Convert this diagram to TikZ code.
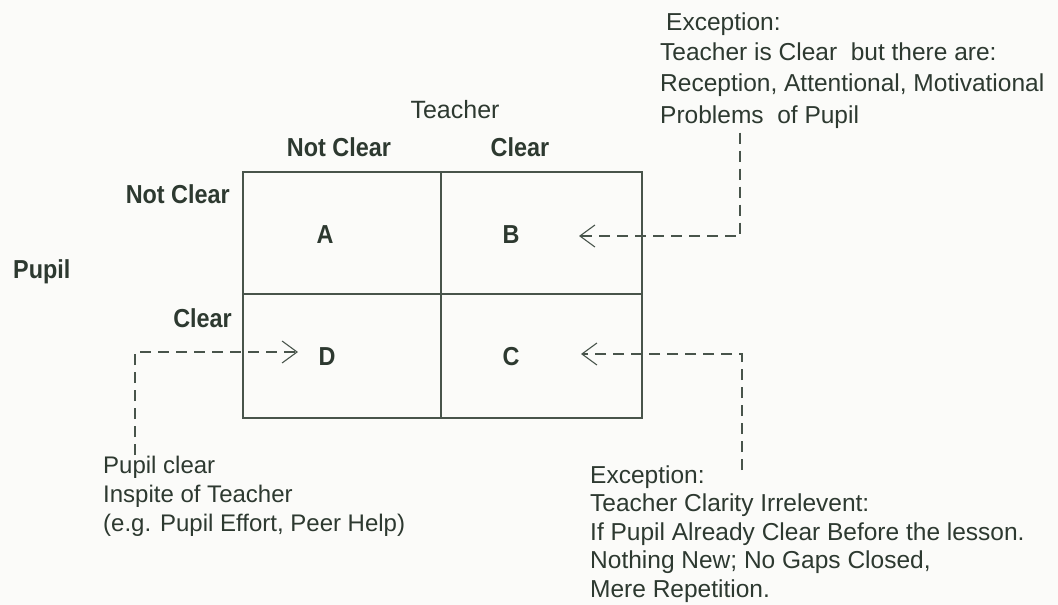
\documentclass[tikz,border=0pt]{standalone}
\usepackage{fontspec}
\setmainfont{Liberation Sans}
\newfontfamily\labfont[FakeStretch=0.9]{Liberation Sans}
\usetikzlibrary{arrows.meta}
\definecolor{bgc}{RGB}{251,251,249}
\definecolor{txt}{RGB}{45,57,48}
\definecolor{ln}{RGB}{72,84,75}
\tikzset{
  gridline/.style={draw=ln, line width=1.5pt},
  hdr/.style={inner sep=0pt, text=txt, font=\labfont\bfseries\fontsize{26}{30}\selectfont},
  tchr/.style={inner sep=0pt, text=txt, font=\fontsize{25}{30}\selectfont},
  letter/.style={inner sep=0pt, text=txt, font=\labfont\bfseries\fontsize{26}{30}\selectfont},
  note/.style={inner sep=0pt, text=txt, anchor=base west},
  dasharrow/.style={draw=ln, line width=1.1pt, dash pattern=on 11pt off 7pt,
    -{Straight Barb[length=15pt,width=22pt,line width=1.1pt]}},
}
\begin{document}
\begin{tikzpicture}[x=1pt,y=-1pt]
\fill[bgc] (0,0) rectangle (1058,605);
\useasboundingbox (0,0) rectangle (1058,605);

% grid
\coordinate (tl) at (243,172);
\coordinate (br) at (642,418);
\coordinate (mid) at (441,294);
\draw[gridline] (tl) rectangle (br);
\draw[gridline] (mid |- tl) -- (mid |- br);
\draw[gridline] (mid -| tl) -- (mid -| br);

% headers
\node[tchr, anchor=base] (teacher) at (455,118) {Teacher};
\node[hdr, anchor=base] (colnc) at (339,156) {Not Clear};
\node[hdr, anchor=base] (colc) at (520,156) {Clear};
\node[hdr, anchor=base east] (rownc) at (230,203) {Not Clear};
\node[hdr, anchor=base east] (rowc) at (232,327) {Clear};
\node[hdr, anchor=base west] (pupil) at (13,278) {Pupil};

% cell letters
\node[letter, anchor=base] (A) at (325,243) {A};
\node[letter, anchor=base] (B) at (511,243) {B};
\node[letter, anchor=base] (D) at (327,365) {D};
\node[letter, anchor=base] (C) at (511,365) {C};

% notes
\node[note, font=\fontsize{24.5}{31}\selectfont] (topnote) at (660,30)
  {\begin{tabular}[t]{@{}l@{}}\hspace{6pt}Exception:\\Teacher is Clear\ \ but there are:\\Reception, Attentional, Motivational\\Problems\ \ of Pupil\end{tabular}};
\node[note, font=\fontsize{24}{29}\selectfont] (leftnote) at (103,473)
  {\begin{tabular}[t]{@{}l@{}}Pupil clear\\Inspite of Teacher\\(e.g. Pupil Effort, Peer Help)\end{tabular}};
\node[note, font=\fontsize{24.5}{28.5}\selectfont] (rightnote) at (590,483)
  {\begin{tabular}[t]{@{}l@{}}Exception:\\Teacher Clarity Irrelevent:\\If Pupil Already Clear Before the lesson.\\Nothing New; No Gaps Closed,\\Mere Repetition.\end{tabular}};

% connectors
\coordinate (bc) at (740,236);
\coordinate (btip) at (579,236);
\draw[dasharrow] (topnote.south -| bc) -- (bc) -- (btip);

\coordinate (cfree) at (742,470);
\coordinate (cc) at (742,354);
\coordinate (ctip) at (581,354);
\draw[dasharrow] (cfree) -- (cc) -- (ctip);

\coordinate (dfree) at (135,455);
\coordinate (dc) at (135,352);
\coordinate (dtip) at (298,352);
\draw[dasharrow] (dfree) -- (dc) -- (dtip);
\end{tikzpicture}
\end{document}
